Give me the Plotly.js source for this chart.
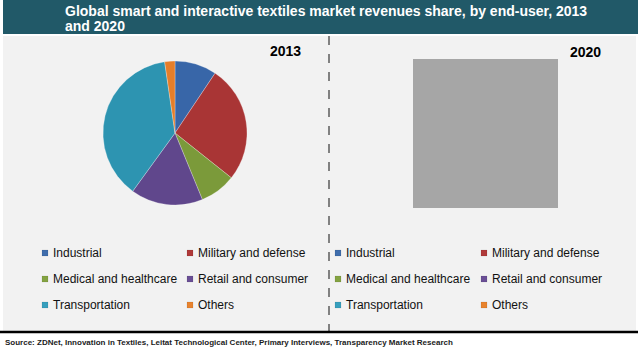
<!DOCTYPE html>
<html>
<head>
<meta charset="utf-8">
<script src="https://cdn.plot.ly/plotly-3.0.1.min.js"></script>
<style>html,body{margin:0;padding:0;background:#fff;}#chart{width:638px;height:353px;}</style>
</head>
<body>
<div id="chart"></div>
<script>
// ---- data ----
const categories = ['Industrial', 'Military and defense', 'Medical and healthcare', 'Retail and consumer', 'Transportation', 'Others'];
const share2013 = [9.4, 26.3, 8.1, 16.2, 37.7, 2.3];
// 2020 pie is hidden behind a grey box in the reference; estimated values
const share2020 = [10.0, 25.5, 8.5, 16.5, 37.0, 2.5];
const years = ['2013', '2020'];
const sliceColors = ['#3866a8', '#a93535', '#7b9a3a', '#60478c', '#2d94b1', '#e57e2a'];
const legendColors = ['#3f6dac', '#b03a3a', '#84a342', '#6a4f96', '#379fbd', '#e8832e'];
const titleLines = ['Global smart and interactive textiles market revenues share, by end-user, 2013', 'and 2020'];
const sourceText = 'Source: ZDNet, Innovation in Textiles, Leitat Technological Center, Primary Interviews, Transparency Market Research';

// ---- layout helpers ----
const W = 638, H = 353;
const px = x => x / W;
const py = y => 1 - y / H;

function pieTrace(values, cx, cy, r) {
  return {
    type: 'pie',
    labels: categories,
    values: values,
    sort: false,
    direction: 'clockwise',
    rotation: 0,
    textinfo: 'none',
    hoverinfo: 'none',
    showlegend: false,
    marker: { colors: sliceColors, line: { color: 'rgba(255,255,255,0.45)', width: 0.6 } },
    domain: { x: [px(cx - r), px(cx + r)], y: [py(cy + r), py(cy - r)] }
  };
}

const data = [
  pieTrace(share2013, 175, 133, 72),
  pieTrace(share2020, 486.5, 133, 71.5)
];

const shapes = [
  // title bar
  { type: 'rect', xref: 'paper', yref: 'paper', x0: px(3), x1: px(638), y0: py(0), y1: py(34), fillcolor: '#215968', line: { width: 0 }, layer: 'below' },
  // chart background
  { type: 'rect', xref: 'paper', yref: 'paper', x0: px(3), x1: px(636), y0: py(36), y1: py(331), fillcolor: '#f2f2f2', line: { width: 0 }, layer: 'below' },
  // divider
  { type: 'line', xref: 'paper', yref: 'paper', x0: px(329), x1: px(329), y0: py(36), y1: py(336), line: { color: '#111', width: 1, dash: 'dash' }, layer: 'below' },
  // bottom rule
  { type: 'line', xref: 'paper', yref: 'paper', x0: 0, x1: 1, y0: py(332), y1: py(332), line: { color: '#000', width: 2.5 }, layer: 'below' },
  // grey box over 2020 pie
  { type: 'rect', xref: 'paper', yref: 'paper', x0: px(413), x1: px(558), y0: py(208), y1: py(59), fillcolor: '#a6a6a6', line: { width: 0 }, layer: 'above' }
];

const titleFont = { family: 'Arial, Liberation Sans', size: 14, color: '#ffffff', weight: 'bold' };
const annotations = [
  { text: titleLines[0], xref: 'paper', yref: 'paper', x: px(63), y: py(11), xanchor: 'left', yanchor: 'middle', showarrow: false, font: titleFont },
  { text: titleLines[1], xref: 'paper', yref: 'paper', x: px(63), y: py(26), xanchor: 'left', yanchor: 'middle', showarrow: false, font: titleFont },
  { text: years[0], xref: 'paper', yref: 'paper', x: px(285), y: py(51), xanchor: 'center', yanchor: 'middle', showarrow: false, font: { family: 'Arial, Liberation Sans', size: 14, color: '#000', weight: 'bold' } },
  { text: years[1], xref: 'paper', yref: 'paper', x: px(585), y: py(52), xanchor: 'center', yanchor: 'middle', showarrow: false, font: { family: 'Arial, Liberation Sans', size: 14, color: '#000', weight: 'bold' } },
  { text: '<b>' + sourceText + '</b>', xref: 'paper', yref: 'paper', x: px(3), y: py(342), xanchor: 'left', yanchor: 'middle', showarrow: false, font: { family: 'Arial, Liberation Sans', size: 8, color: '#1b1b1b' } }
];

// legends (two per panel, 2 columns x 3 rows)
const panelCols = [[42, 187], [335, 481]];
const rowY = [253, 279, 305];
panelCols.forEach(cols => {
  categories.forEach((cat, i) => {
    const col = i % 2, row = Math.floor(i / 2);
    const sx = cols[col], sy = rowY[row];
    shapes.push({ type: 'rect', xref: 'paper', yref: 'paper', x0: px(sx), x1: px(sx + 6), y0: py(sy + 3), y1: py(sy - 3), fillcolor: legendColors[i], line: { color: 'rgba(0,0,0,0.15)', width: 0.5 }, layer: 'above' });
    annotations.push({ text: cat, xref: 'paper', yref: 'paper', x: px(sx + 9), y: py(sy), xanchor: 'left', yanchor: 'middle', showarrow: false, font: { family: 'Arial, Liberation Sans', size: 12, color: '#111' } });
  });
});

const layout = {
  width: W, height: H,
  margin: { l: 0, r: 0, t: 0, b: 0 },
  paper_bgcolor: '#ffffff',
  showlegend: false,
  shapes: shapes,
  annotations: annotations
};

Plotly.newPlot('chart', data, layout, { staticPlot: true, displayModeBar: false });
</script>
</body>
</html>
